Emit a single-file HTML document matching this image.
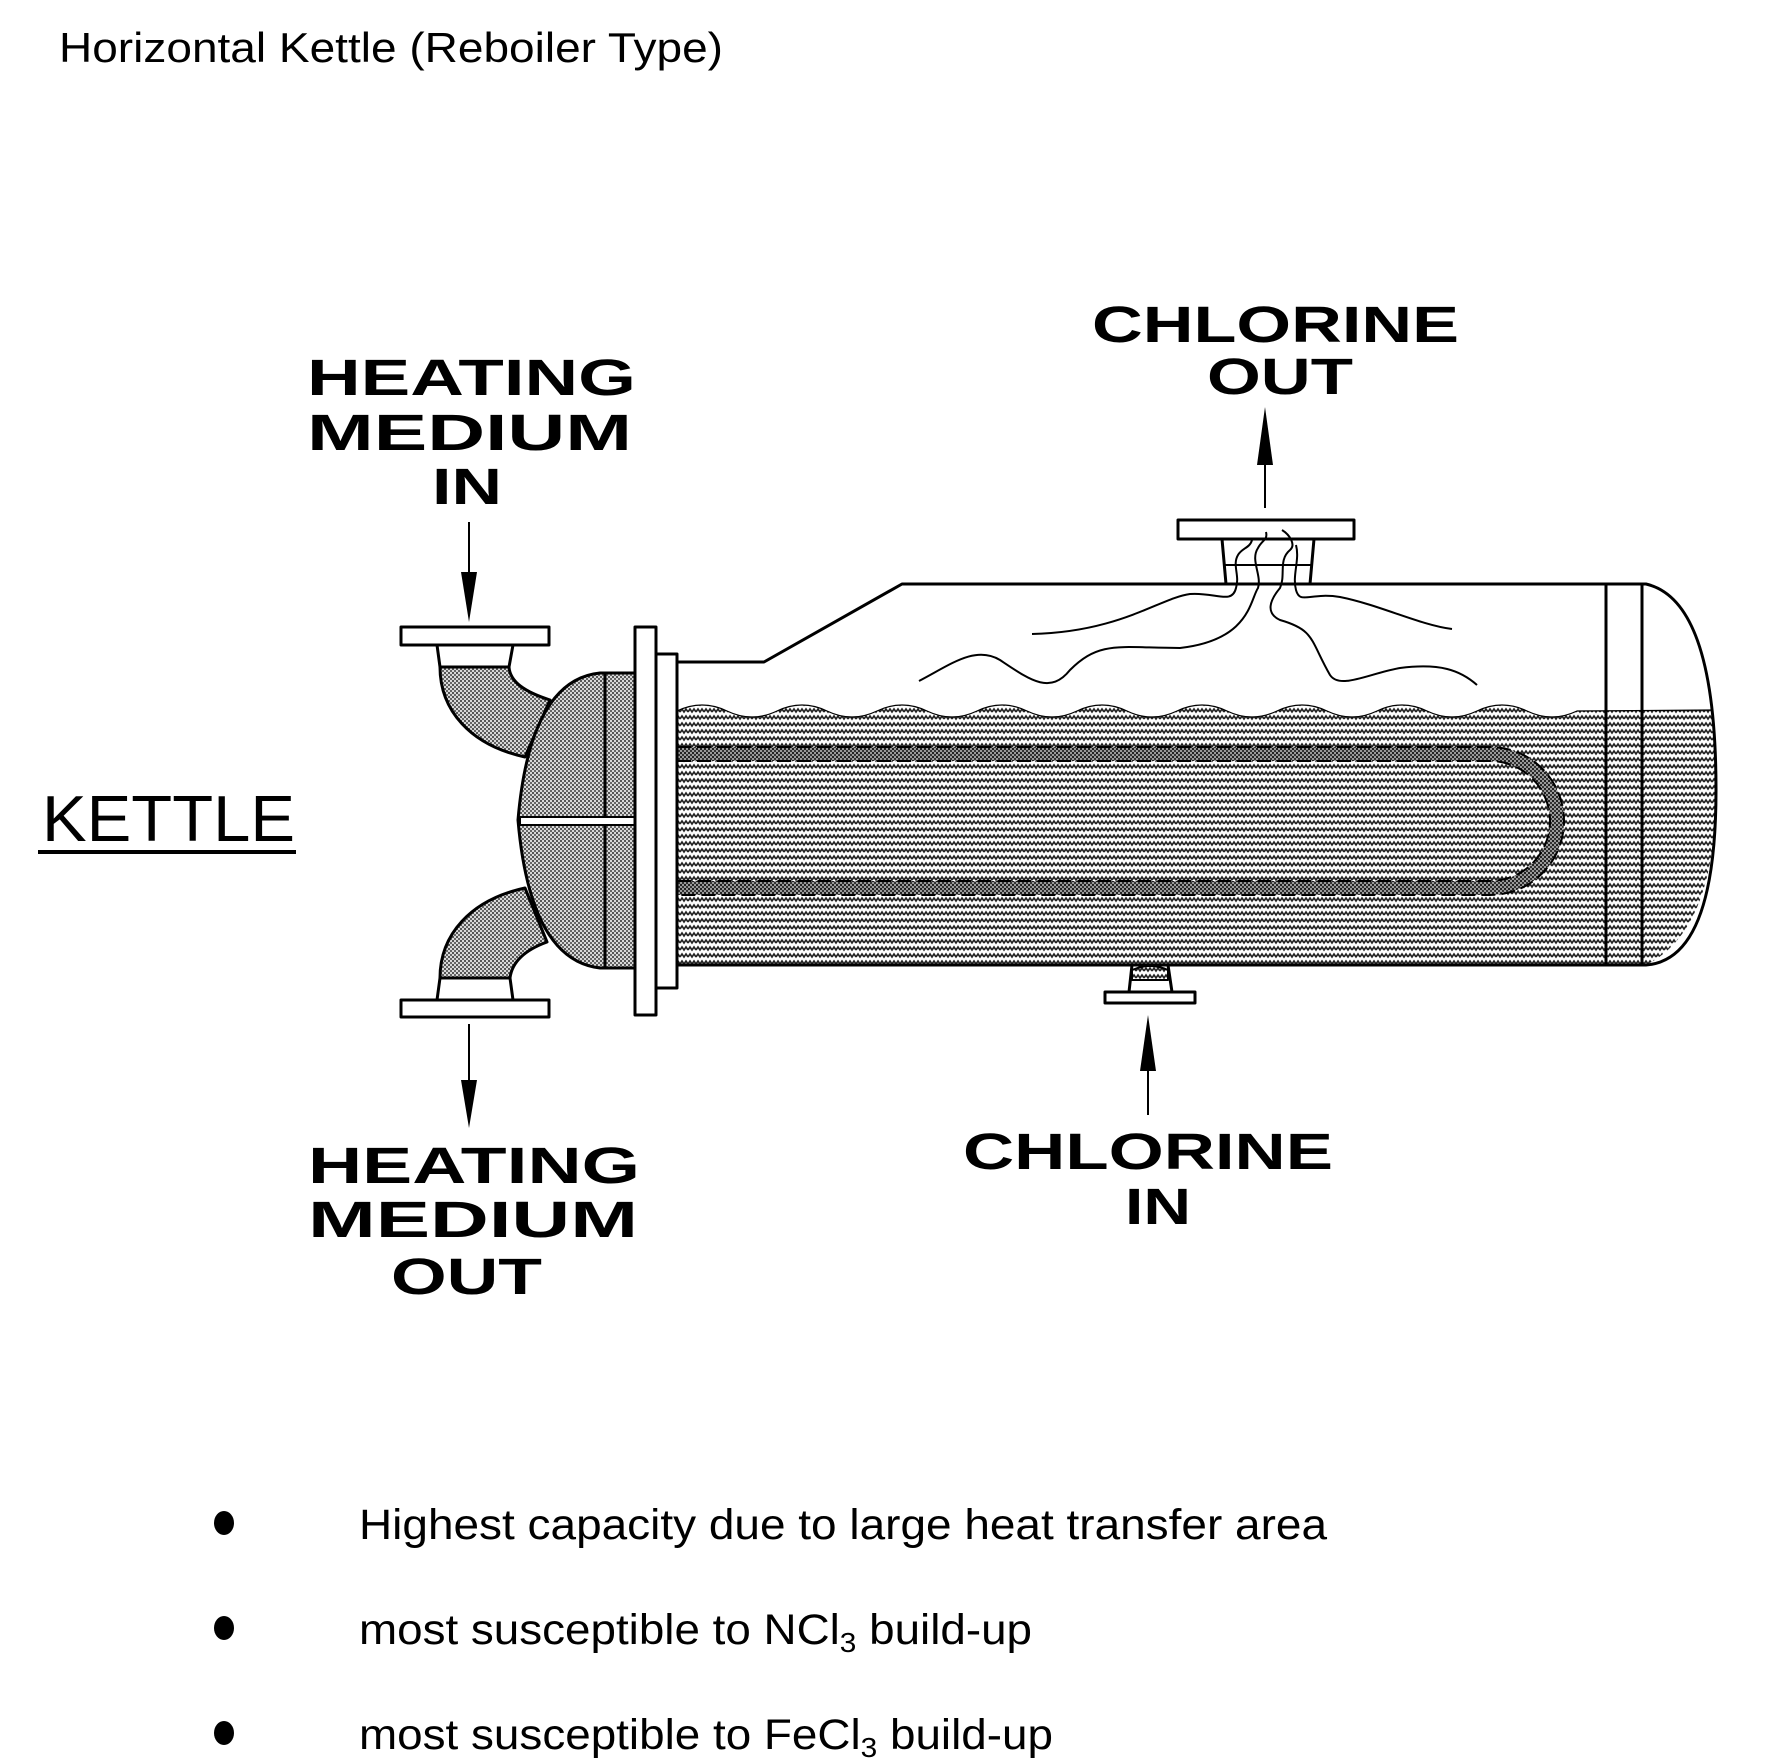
<!DOCTYPE html>
<html><head><meta charset="utf-8"><style>
html,body{margin:0;padding:0;background:#fff}
svg{display:block}
</style></head><body>
<svg width="1789" height="1762" viewBox="0 0 1789 1762" xmlns="http://www.w3.org/2000/svg">
<defs>
<pattern id="zz" width="8" height="7" patternUnits="userSpaceOnUse">
<rect width="8" height="7" fill="#fff"/>
<path d="M0,5 L2,2 L4,5 L6,2 L8,5" fill="none" stroke="#222" stroke-width="1.6"/>
</pattern>
<pattern id="dots" width="4" height="4" patternUnits="userSpaceOnUse">
<rect width="4" height="4" fill="#d8d8d8"/>
<rect width="2" height="2" fill="#555"/>
<rect x="2" y="2" width="2" height="2" fill="#666"/>
</pattern>
<pattern id="dark" width="4" height="4" patternUnits="userSpaceOnUse">
<rect width="4" height="4" fill="#999"/>
<rect width="2" height="2" fill="#222"/>
<rect x="2" y="2" width="2" height="2" fill="#333"/>
</pattern>
</defs>

<text x="59" y="62" font-family="Liberation Sans, sans-serif" font-size="42" textLength="664" lengthAdjust="spacingAndGlyphs">Horizontal Kettle (Reboiler Type)</text>

<g font-family="Liberation Sans, sans-serif" font-weight="bold" font-size="51">
<text x="307" y="395" textLength="329" lengthAdjust="spacingAndGlyphs">HEATING</text>
<text x="307" y="450" textLength="325" lengthAdjust="spacingAndGlyphs">MEDIUM</text>
<text x="432" y="504" textLength="70" lengthAdjust="spacingAndGlyphs">IN</text>
<text x="1092" y="342" textLength="367" lengthAdjust="spacingAndGlyphs">CHLORINE</text>
<text x="1207" y="394" textLength="146" lengthAdjust="spacingAndGlyphs">OUT</text>
<text x="308" y="1183" textLength="332" lengthAdjust="spacingAndGlyphs">HEATING</text>
<text x="308" y="1237" textLength="330" lengthAdjust="spacingAndGlyphs">MEDIUM</text>
<text x="391" y="1294" textLength="151" lengthAdjust="spacingAndGlyphs">OUT</text>
<text x="963" y="1169" textLength="370" lengthAdjust="spacingAndGlyphs">CHLORINE</text>
<text x="1125" y="1224" textLength="66" lengthAdjust="spacingAndGlyphs">IN</text>
</g>
<text x="42" y="841" font-family="Liberation Sans, sans-serif" font-size="65" textLength="253" lengthAdjust="spacingAndGlyphs">KETTLE</text>
<rect x="38" y="850" width="258" height="4" fill="#000"/>

<g stroke="#000" stroke-width="2">
<line x1="469" y1="522" x2="469" y2="580"/>
<line x1="469" y1="1024" x2="469" y2="1080"/>
<line x1="1265" y1="508" x2="1265" y2="460"/>
<line x1="1148" y1="1115" x2="1148" y2="1068"/>
</g>
<g fill="#000">
<polygon points="461,572 477,572 469,622"/>
<polygon points="461,1080 477,1080 469,1128"/>
<polygon points="1257,465 1273,465 1265,407"/>
<polygon points="1140,1071 1156,1071 1148,1015"/>
</g>

<g stroke="#000" stroke-width="3" stroke-linejoin="round">
<path d="M437,645 L440,667 L509,667 L513,645 Z" fill="#fff"/>
<path d="M440,667 C440,710 470,745 525,757 L550,700 C525,692 510,682 509,667 Z" fill="url(#dots)"/>
<rect x="401" y="627" width="148" height="18" fill="#fff"/>
<path d="M437,1000 L440,978 L510,978 L513,1000 Z" fill="#fff"/>
<path d="M440,978 C440,935 470,900 525,888 L547,942 C525,950 512,962 510,978 Z" fill="url(#dots)"/>
<rect x="401" y="1000" width="148" height="17" fill="#fff"/>

<path d="M677,711 q25,-12 50,0 q25,12 50,0 q25,-12 50,0 q25,12 50,0 q25,-12 50,0 q25,12 50,0 q25,-12 50,0 q25,12 50,0 q25,-12 50,0 q25,12 50,0 q25,-12 50,0 q25,12 50,0 q25,-12 50,0 q25,12 50,0 q25,-12 50,0 q25,12 50,0 q25,-12 50,0 q25,12 50,0 L1711,710 Q1716,740 1716,790 Q1716,930 1646,965 L677,965 Z" fill="url(#zz)" stroke="none"/>
<path d="M677,711 q25,-12 50,0 q25,12 50,0 q25,-12 50,0 q25,12 50,0 q25,-12 50,0 q25,12 50,0 q25,-12 50,0 q25,12 50,0 q25,-12 50,0 q25,12 50,0 q25,-12 50,0 q25,12 50,0 q25,-12 50,0 q25,12 50,0 q25,-12 50,0 q25,12 50,0 q25,-12 50,0 q25,12 50,0 L1711,710" fill="none" stroke-width="1.2"/>
<path d="M677,754 H1490 A67,67 0 0 1 1490,888 H677" fill="none" stroke="url(#dark)" stroke-width="14"/>
<path d="M677,747 H1490 A74,74 0 0 1 1490,895 H677" fill="none" stroke-width="2" stroke-dasharray="14,6"/>
<path d="M677,761 H1490 A60,60 0 0 1 1490,881 H677" fill="none" stroke-width="2" stroke-dasharray="14,6"/>
<path d="M677,662 L764,662 L902,584 L1646,584 Q1716,600 1716,790 Q1716,960 1646,965 L677,965" fill="none"/>
<line x1="1606" y1="584" x2="1606" y2="965"/>
<line x1="1642" y1="584" x2="1642" y2="965"/>

<path d="M635,673 L600,673 Q530,680 518,820 Q530,960 600,968 L635,968 Z" fill="url(#dots)"/>
<line x1="605" y1="673" x2="605" y2="968"/>
<rect x="520" y="817" width="157" height="8" fill="#fff" stroke-width="2"/>
<rect x="635" y="627" width="21" height="388" fill="#fff"/>
<rect x="656" y="654" width="21" height="334" fill="#fff"/>

<path d="M1222,539 L1226,584 L1310,584 L1314,539 Z" fill="#fff"/>
<line x1="1225" y1="565" x2="1311" y2="565" stroke-width="2"/>
<rect x="1178" y="520" width="176" height="19" fill="#fff"/>
<path d="M1129,992 L1132,965 L1168,965 L1172,992 Z" fill="#fff"/>
<path d="M1132,980 L1132,970 Q1150,962 1168,970 L1168,980 Z" fill="url(#zz)" stroke-width="2"/>
<rect x="1105" y="992" width="90" height="11" fill="#fff"/>
</g>

<g fill="none" stroke="#000" stroke-width="2">
<path d="M1032,634 C1120,632 1160,598 1190,594 C1215,592 1232,605 1236,588 C1240,575 1232,565 1238,555 C1242,548 1250,548 1252,540"/>
<path d="M919,681 C950,665 975,645 1000,660 C1030,680 1050,695 1070,670 C1100,640 1120,648 1180,648 C1250,640 1250,600 1258,588 C1262,575 1250,560 1258,548 C1262,540 1268,540 1266,532"/>
<path d="M1477,685 C1460,670 1440,663 1400,668 C1370,673 1340,690 1330,675 C1310,640 1315,630 1280,620 C1265,613 1270,600 1280,588 C1286,575 1278,560 1290,550 C1296,545 1290,535 1282,530"/>
<path d="M1452,629 C1420,625 1380,605 1340,597 C1310,592 1300,605 1296,590 C1292,575 1300,560 1296,545"/>
</g>

<g font-family="Liberation Sans, sans-serif" font-size="43">
<ellipse cx="224" cy="1523" rx="10" ry="12"/>
<ellipse cx="224" cy="1628" rx="10" ry="12"/>
<ellipse cx="224" cy="1733" rx="10" ry="12"/>
<text x="359" y="1539" textLength="968" lengthAdjust="spacingAndGlyphs">Highest capacity due to large heat transfer area</text>
<text x="359" y="1644" textLength="673" lengthAdjust="spacingAndGlyphs">most susceptible to NCl<tspan font-size="28" dy="8">3</tspan><tspan dy="-8"> build-up</tspan></text>
<text x="359" y="1749" textLength="694" lengthAdjust="spacingAndGlyphs">most susceptible to FeCl<tspan font-size="28" dy="8">3</tspan><tspan dy="-8"> build-up</tspan></text>
</g>
</svg>
</body></html>
